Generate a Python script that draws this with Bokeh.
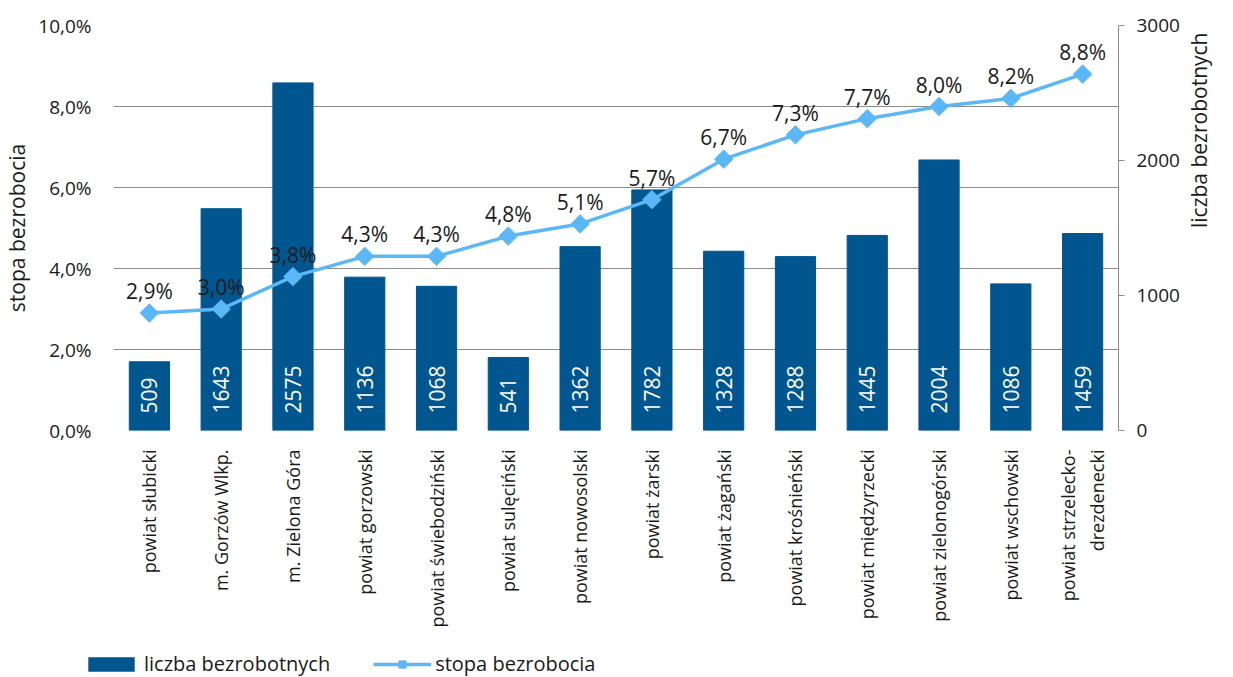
from math import pi
from bokeh.plotting import figure
from bokeh.layouts import column
from bokeh.models import (Range1d, LinearAxis, FixedTicker, Legend, LegendItem,
                          FactorRange, ColumnDataSource)
from bokeh.core.properties import value
from bokeh.embed import file_html
from bokeh.resources import INLINE

# ---- data ----
categories = ["powiat słubicki", "m. Gorzów Wlkp.", "m. Zielona Góra", "powiat gorzowski",
              "powiat świebodziński", "powiat sulęciński", "powiat nowosolski", "powiat żarski",
              "powiat żagański", "powiat krośnieński", "powiat międzyrzecki",
              "powiat zielonogórski", "powiat wschowski", "powiat strzelecko-\ndrezdenecki"]
counts = [509, 1643, 2575, 1136, 1068, 541, 1362, 1782, 1328, 1288, 1445, 2004, 1086, 1459]
rates = [2.9, 3.0, 3.8, 4.3, 4.3, 4.8, 5.1, 5.7, 6.7, 7.3, 7.7, 8.0, 8.2, 8.8]
rate_labels = ["2,9%", "3,0%", "3,8%", "4,3%", "4,3%", "4,8%", "5,1%", "5,7%", "6,7%",
               "7,3%", "7,7%", "8,0%", "8,2%", "8,8%"]
left_ticks = [0, 2, 4, 6, 8, 10]
left_tick_labels = ["0,0%", "2,0%", "4,0%", "6,0%", "8,0%", "10,0%"]
right_ticks = [0, 1000, 2000, 3000]
series_names = ["liczba bezrobotnych", "stopa bezrobocia"]

FONT = "Open Sans"
BAR = "#02568F"
LINE = "#5BB7F6"
GRID = "#8C8C8C"
TXT = "#1A1A1A"

src = ColumnDataSource(dict(cat=categories, count=counts, rate=rates,
                            rate_label=rate_labels, count_label=[str(c) for c in counts]))

p = figure(x_range=FactorRange(factors=categories), y_range=Range1d(0, 10),
           width=1233, height=637, output_backend="svg", toolbar_location=None,
           min_border_left=111, min_border_right=115, min_border_top=25,
           min_border_bottom=207)
p.extra_y_ranges = {"count": Range1d(0, 3000)}
p.outline_line_color = None
p.background_fill_color = "white"
p.border_fill_color = "white"

p.xgrid.grid_line_color = None
p.ygrid.ticker = FixedTicker(ticks=left_ticks)
p.ygrid.grid_line_color = GRID
p.ygrid.grid_line_width = 1

# left axis
ya = p.yaxis[0]
ya.ticker = FixedTicker(ticks=left_ticks)
ya.major_label_overrides = dict(zip(left_ticks, left_tick_labels))
ya.axis_line_color = None
ya.major_tick_line_color = None
ya.minor_tick_line_color = None
ya.major_label_standoff = 16
ya.major_label_text_font = FONT
ya.major_label_text_font_size = "19px"
ya.major_label_text_color = TXT
ya.axis_label = series_names[1]
ya.axis_label_text_font = FONT
ya.axis_label_text_font_size = "21px"
ya.axis_label_text_font_style = "normal"
ya.axis_label_text_color = TXT
ya.axis_label_standoff = 4

# right axis
ra = LinearAxis(y_range_name="count", ticker=FixedTicker(ticks=right_ticks),
                axis_label=series_names[0])
ra.axis_line_color = GRID
ra.major_tick_line_color = GRID
ra.major_tick_out = 6
ra.major_tick_in = 0
ra.minor_tick_line_color = None
ra.major_label_standoff = 12
ra.major_label_text_font = FONT
ra.major_label_text_font_size = "19px"
ra.major_label_text_color = TXT
ra.axis_label_text_font = FONT
ra.axis_label_text_font_size = "21px"
ra.axis_label_text_font_style = "normal"
ra.axis_label_text_color = TXT
ra.axis_label_standoff = 16
ra.axis_label_orientation = pi / 2
p.add_layout(ra, "right")

# x axis
xa = p.xaxis[0]
xa.axis_line_color = None
xa.major_tick_line_color = None
xa.minor_tick_line_color = None
xa.major_label_orientation = pi / 2
xa.major_label_standoff = 13
xa.major_label_text_font = FONT
xa.major_label_text_font_size = "18px"
xa.major_label_text_color = TXT

# glyphs
bars = p.vbar(x="cat", top="count", width=0.56, source=src, y_range_name="count",
              fill_color=BAR, line_color=BAR)
ln = p.line(x="cat", y="rate", source=src, line_width=3.5, line_color=LINE)
mk = p.scatter(x="cat", y="rate", source=src, marker="square", angle=pi / 4, size=13,
               fill_color=LINE, line_color=LINE)

p.text(x="cat", y=0, text="count_label", source=src, y_range_name="count",
       angle=pi / 2, text_align="left", text_baseline="middle", y_offset=-17,
       text_color="white", text_font=value(FONT), text_font_size="21px")
p.text(x="cat", y="rate", text="rate_label", source=src, text_align="center",
       text_baseline="alphabetic", y_offset=-22, text_color=TXT,
       text_font=value(FONT), text_font_size="21px")

# ---- legend strip below the chart (same series, drawn out of view) ----
lg = figure(width=1233, height=40, output_backend="svg", toolbar_location=None,
            x_range=FactorRange(factors=categories), y_range=Range1d(5000, 6000),
            x_axis_location=None, y_axis_location=None,
            min_border_left=0, min_border_right=0, min_border_top=0, min_border_bottom=0)
lg.frame_align = False
lg.outline_line_color = None
lg.xgrid.grid_line_color = None
lg.ygrid.grid_line_color = None
lb = lg.vbar(x="cat", top="count", width=0.56, source=src, fill_color=BAR, line_color=None)
ll = lg.line(x="cat", y="rate", source=src, line_width=3.5, line_color=LINE)
lm = lg.scatter(x="cat", y="rate", source=src, marker="square", angle=pi / 4, size=10,
                fill_color=LINE, line_color=LINE)
legend = Legend(items=[LegendItem(label=series_names[0], renderers=[lb]),
                       LegendItem(label=series_names[1], renderers=[ll, lm])],
                orientation="horizontal", location=(82, 0),
                glyph_width=58, glyph_height=18, label_standoff=4, spacing=43,
                padding=0, margin=0, border_line_color=None,
                background_fill_alpha=0,
                label_text_font=FONT, label_text_font_size="20px",
                label_text_color=TXT)
lg.add_layout(legend, "center")

layout = column(p, lg, spacing=0)
open("out.html", "w").write(file_html(layout, INLINE))
